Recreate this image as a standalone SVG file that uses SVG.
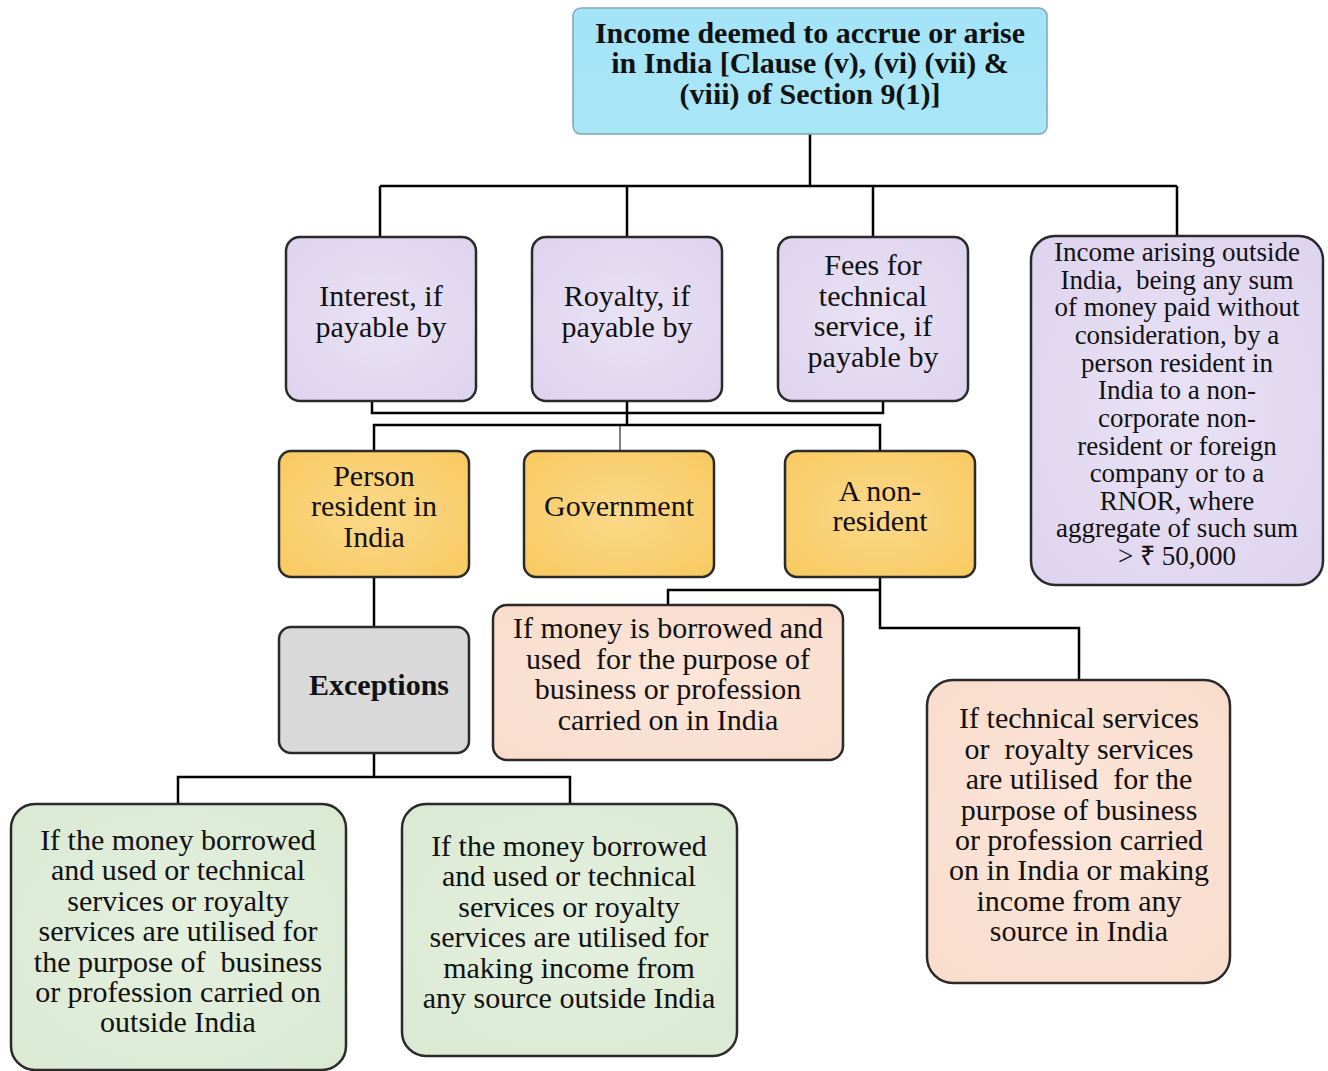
<svg xmlns="http://www.w3.org/2000/svg" width="1328" height="1071" viewBox="0 0 1328 1071">
<defs>
<linearGradient id="gTop" x1="0" y1="0" x2="0" y2="1"><stop offset="0" stop-color="#a4e4f8"/><stop offset="1" stop-color="#a9e6f6"/></linearGradient>
<radialGradient id="gPur" cx="0.5" cy="0.5" r="0.7"><stop offset="0" stop-color="#e9e2f5"/><stop offset="1" stop-color="#ddd3ee"/></radialGradient>
<radialGradient id="gOra" cx="0.5" cy="0.5" r="0.7"><stop offset="0" stop-color="#fbd98a"/><stop offset="1" stop-color="#f8c95f"/></radialGradient>
<radialGradient id="gPea" cx="0.5" cy="0.5" r="0.7"><stop offset="0" stop-color="#fce6da"/><stop offset="1" stop-color="#f9dccb"/></radialGradient>
<radialGradient id="gGrn" cx="0.5" cy="0.5" r="0.7"><stop offset="0" stop-color="#e5f0df"/><stop offset="1" stop-color="#d9e9d2"/></radialGradient>
</defs>
<style>
.box{stroke:#2a2a2a;stroke-width:2.5}
.pur{fill:url(#gPur)}
.ora{fill:url(#gOra)}
.pea{fill:url(#gPea)}
.grn{fill:url(#gGrn)}
.gry{fill:#d9d9d9}
text{font-family:"Liberation Serif","Times New Roman",serif;font-size:30px;fill:#111;text-anchor:middle;white-space:pre}
.b{font-weight:bold}
.s{font-size:27px}
.l{font-size:30px}
.c{fill:none;stroke:#000;stroke-width:2.5}
.thin{fill:none;stroke:#000;stroke-width:1}
</style>
<rect width="1328" height="1071" fill="#ffffff"/>
<g id="connectors">
<path class="c" d="M810 134V186M380 186H1177M380 186V237M627 186V237M873 186V237M1177 186V236"/>
<path class="c" d="M372 401V413H883V401M627 401V425M374 451V425H880V451"/>
<path class="thin" d="M620 425V451"/>
<path class="c" d="M374 577V627M880 577V628H1079V680M880 590H668V605"/>
<path class="c" d="M374 753V777M178 804V777H570V804"/>
</g>
<g id="top">
<rect x="573" y="8" width="474" height="126" rx="8" fill="url(#gTop)" stroke="#7fa7b7" stroke-width="1.5"/>
<text class="b" x="810" y="43">Income deemed to accrue or arise</text>
<text class="b" x="810" y="73">in India [Clause (v), (vi) (vii) &amp;</text>
<text class="b" x="810" y="104">(viii) of Section 9(1)]</text>
</g>
<g id="interest">
<rect class="box pur" x="286" y="237" width="190" height="164" rx="14"/>
<text class="l" x="381" y="306">Interest, if</text>
<text class="l" x="381" y="337">payable by</text>
</g>
<g id="royalty">
<rect class="box pur" x="532" y="237" width="190" height="164" rx="14"/>
<text class="l" x="627" y="306">Royalty, if</text>
<text class="l" x="627" y="337">payable by</text>
</g>
<g id="fees">
<rect class="box pur" x="778" y="237" width="190" height="164" rx="14"/>
<text class="l" x="873" y="275">Fees for</text>
<text class="l" x="873" y="305.5">technical</text>
<text class="l" x="873" y="336">service, if</text>
<text class="l" x="873" y="367">payable by</text>
</g>
<g id="outside">
<rect class="box pur" x="1031" y="236" width="292" height="349" rx="24"/>
<text class="s" x="1177" y="261">Income arising outside</text>
<text class="s" x="1177" y="288.6">India,  being any sum</text>
<text class="s" x="1177" y="316.3">of money paid without</text>
<text class="s" x="1177" y="343.9">consideration, by a</text>
<text class="s" x="1177" y="371.6">person resident in</text>
<text class="s" x="1177" y="399.2">India to a non-</text>
<text class="s" x="1177" y="426.8">corporate non-</text>
<text class="s" x="1177" y="454.5">resident or foreign</text>
<text class="s" x="1177" y="482.1">company or to a</text>
<text class="s" x="1177" y="509.8">RNOR, where</text>
<text class="s" x="1177" y="537.4">aggregate of such sum</text>
<text class="s" x="1177" y="565">&gt; ₹ 50,000</text>
</g>
<g id="resident">
<rect class="box ora" x="279" y="451" width="190" height="126" rx="12"/>
<text x="374" y="486">Person</text>
<text x="374" y="516">resident in</text>
<text x="374" y="547">India</text>
</g>
<g id="government">
<rect class="box ora" x="524" y="451" width="190" height="126" rx="12"/>
<text x="619" y="516">Government</text>
</g>
<g id="nonresident">
<rect class="box ora" x="785" y="451" width="190" height="126" rx="12"/>
<text x="880" y="501">A non-</text>
<text x="880" y="531">resident</text>
</g>
<g id="exceptions">
<rect class="box gry" x="279" y="627" width="190" height="126" rx="12"/>
<text class="b" x="379" y="695">Exceptions</text>
</g>
<g id="borrowed">
<rect class="box pea" x="493" y="605" width="350" height="155" rx="14"/>
<text x="668" y="638">If money is borrowed and</text>
<text x="668" y="669">used  for the purpose of</text>
<text x="668" y="699">business or profession</text>
<text x="668" y="730">carried on in India</text>
</g>
<g id="technical">
<rect class="box pea" x="927" y="680" width="303" height="303" rx="26"/>
<text x="1079" y="728">If technical services</text>
<text x="1079" y="759">or  royalty services</text>
<text x="1079" y="789">are utilised  for the</text>
<text x="1079" y="820">purpose of business</text>
<text x="1079" y="850">or profession carried</text>
<text x="1079" y="880">on in India or making</text>
<text x="1079" y="911">income from any</text>
<text x="1079" y="941">source in India</text>
</g>
<g id="exc1">
<rect class="box grn" x="11" y="804" width="335" height="266" rx="24"/>
<text x="178" y="850">If the money borrowed</text>
<text x="178" y="880">and used or technical</text>
<text x="178" y="911">services or royalty</text>
<text x="178" y="941">services are utilised for</text>
<text x="178" y="972">the purpose of  business</text>
<text x="178" y="1002">or profession carried on</text>
<text x="178" y="1032">outside India</text>
</g>
<g id="exc2">
<rect class="box grn" x="402" y="804" width="335" height="252" rx="24"/>
<text x="569" y="856">If the money borrowed</text>
<text x="569" y="886">and used or technical</text>
<text x="569" y="917">services or royalty</text>
<text x="569" y="947">services are utilised for</text>
<text x="569" y="978">making income from</text>
<text x="569" y="1008">any source outside India</text>
</g>
</svg>
